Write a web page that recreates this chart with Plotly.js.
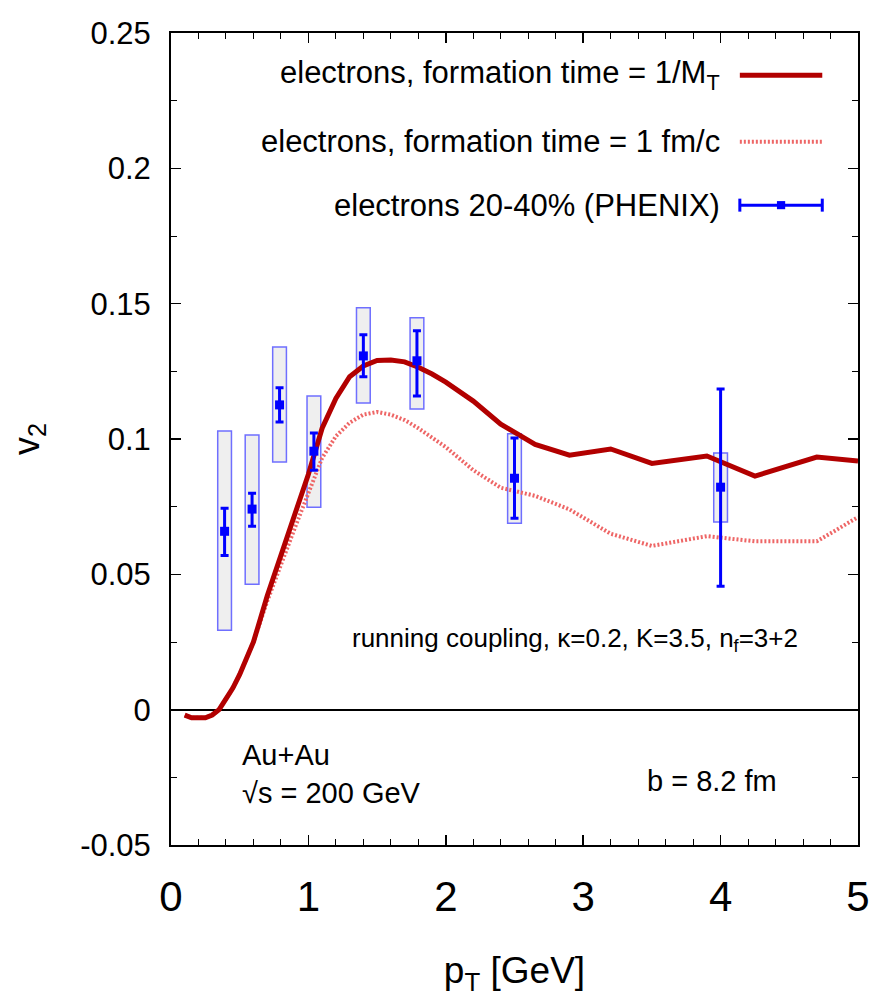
<!DOCTYPE html>
<html>
<head>
<meta charset="utf-8">
<script src="https://cdn.plot.ly/plotly-3.0.1.min.js"></script>
<style>html,body{margin:0;padding:0;background:#fff;}#chart{width:873px;height:1000px;}</style>
</head>
<body>
<div id="chart"></div>
<script>
// ---- Theory curve: formation time = 1/M_T ----
const ptMT = [0.1,0.15,0.2,0.25,0.3,0.35,0.4,0.45,0.5,0.6,0.7,0.8,0.9,1.0,1.1,1.2,1.3,1.4,1.5,1.6,1.7,1.8,1.9,2.0,2.2,2.4,2.65,2.9,3.2,3.5,3.9,4.25,4.7,5.0];
const v2MT = [-0.002,-0.003,-0.003,-0.003,-0.002,0.0,0.004,0.008,0.013,0.025,0.042,0.057,0.072,0.087,0.104,0.115,0.123,0.127,0.129,0.1292,0.1285,0.1265,0.124,0.121,0.114,0.1055,0.098,0.094,0.0963,0.091,0.0937,0.0863,0.0933,0.0919];

// ---- Theory curve: formation time = 1 fm/c ----
const ptFM = [0.1,0.15,0.2,0.25,0.3,0.35,0.4,0.45,0.5,0.6,0.7,0.8,0.9,1.0,1.1,1.2,1.3,1.4,1.5,1.6,1.7,1.8,1.9,2.0,2.2,2.4,2.65,2.9,3.2,3.5,3.9,4.25,4.7,5.0];
const v2FM = [-0.002,-0.003,-0.003,-0.003,-0.002,0.0,0.004,0.008,0.013,0.025,0.040,0.054,0.067,0.080,0.093,0.101,0.106,0.109,0.110,0.109,0.107,0.104,0.1005,0.097,0.0885,0.082,0.079,0.074,0.065,0.0605,0.0641,0.0622,0.0622,0.0711];

// ---- PHENIX electrons 20-40% ----
const ptData = [0.39,0.59,0.79,1.04,1.40,1.79,2.50,4.00];
const v2Data = [0.0659,0.0741,0.1126,0.0955,0.1307,0.1289,0.0855,0.0822];
const statPlus = [0.0085,0.0059,0.0063,0.0067,0.0078,0.0111,0.0149,0.0363];
const statMinus = [0.0089,0.0063,0.0063,0.0070,0.0077,0.0130,0.0148,0.0366];
const sysHigh = [0.1030,0.1015,0.1340,0.1159,0.1485,0.1448,0.1019,0.0948];
const sysLow = [0.0293,0.0463,0.0915,0.0748,0.1133,0.1111,0.0689,0.0693];

// ---- Tick labels ----
const yTickVals = [-0.05,0,0.05,0.1,0.15,0.2,0.25];
const yTickText = ["-0.05","0","0.05","0.1","0.15","0.2","0.25"];
const xTickVals = [0,1,2,3,4,5];
const xTickText = ["0","1","2","3","4","5"];

// ---- Text ----
const legendLabels = ["electrons, formation time = 1/M<sub>T</sub>", "electrons, formation time = 1 fm/c", "electrons 20-40% (PHENIX)"];
const xTitle = "p<sub>T</sub> [GeV]";
const yTitle = "v<sub>2</sub>";
const noteCoupling = "running coupling, κ=0.2, K=3.5, n<sub>f</sub>=3+2";
const noteSystem = "Au+Au<br>√s = 200 GeV";
const noteB = "b = 8.2 fm";

const NARROW = "Liberation Sans Narrow, Arial Narrow, Liberation Sans, Arial, sans-serif";
const NORMAL = "Liberation Sans, Arial, Helvetica, sans-serif";
const darkRed = "#b20000";
const lightRed = "#ee6666";
const blue = "#0000ff";

const traces = [
  {x: ptFM, y: v2FM, mode: "lines", line: {color: lightRed, width: 4, dash: "2px,2px"}, showlegend: false, hoverinfo: "skip"},
  {x: ptMT, y: v2MT, mode: "lines", line: {color: darkRed, width: 5}, showlegend: false},
  {x: ptData, y: v2Data, mode: "markers", marker: {symbol: "square", size: 9, color: blue},
   error_y: {type: "data", symmetric: false, array: statPlus, arrayminus: statMinus, color: blue, thickness: 3, width: 4},
   showlegend: false}
];

const boxHalf = 0.05;
const shapes = ptData.map((p, i) => ({
  type: "rect", xref: "x", yref: "y", layer: "below",
  x0: p - boxHalf, x1: p + boxHalf, y0: sysLow[i], y1: sysHigh[i],
  fillcolor: "#efefef", line: {color: "#6f6fff", width: 1.5}
}));

// manual legend (text on the left, sample on the right)
const legY = [0.948, 0.866, 0.788];
const sx0 = 0.828, sx1 = 0.948;
shapes.push({type: "line", xref: "paper", yref: "paper", x0: sx0, x1: sx1, y0: legY[0], y1: legY[0], line: {color: darkRed, width: 5}});
shapes.push({type: "line", xref: "paper", yref: "paper", x0: sx0, x1: sx1, y0: legY[1], y1: legY[1], line: {color: lightRed, width: 4, dash: "2px,2px"}});
shapes.push({type: "line", xref: "paper", yref: "paper", x0: sx0, x1: sx1, y0: legY[2], y1: legY[2], line: {color: blue, width: 3}});
shapes.push({type: "line", xref: "paper", yref: "paper", x0: sx0, x1: sx0, y0: legY[2] - 0.008, y1: legY[2] + 0.008, line: {color: blue, width: 3}});
shapes.push({type: "line", xref: "paper", yref: "paper", x0: sx1, x1: sx1, y0: legY[2] - 0.008, y1: legY[2] + 0.008, line: {color: blue, width: 3}});
const mid = (sx0 + sx1) / 2;
shapes.push({type: "rect", xref: "paper", yref: "paper", x0: mid - 0.006, x1: mid + 0.006, y0: legY[2] - 0.005, y1: legY[2] + 0.005, fillcolor: blue, line: {width: 0}});

const annotations = legendLabels.map((t, i) => ({
  text: t, xref: "paper", yref: "paper", x: 0.802, y: legY[i], xanchor: "right", yanchor: "middle",
  showarrow: false, font: {family: NARROW, size: 31, color: "#000"}
}));
annotations.push({text: noteCoupling, xref: "paper", yref: "paper", x: 0.26, y: 0.253, xanchor: "left", yanchor: "middle", showarrow: false, font: {family: NARROW, size: 26, color: "#000"}});
annotations.push({text: noteSystem, xref: "paper", yref: "paper", x: 0.1, y: 0.087, xanchor: "left", yanchor: "middle", align: "left", showarrow: false, font: {family: NARROW, size: 29, color: "#000"}});
annotations.push({text: noteB, xref: "paper", yref: "paper", x: 0.69, y: 0.079, xanchor: "left", yanchor: "middle", showarrow: false, font: {family: NARROW, size: 29, color: "#000"}});

const layout = {
  width: 873, height: 1000,
  margin: {l: 171, r: 15, t: 33, b: 155},
  paper_bgcolor: "#fff", plot_bgcolor: "#fff",
  showlegend: false,
  xaxis: {
    range: [0, 5], tickmode: "array", tickvals: xTickVals, ticktext: xTickText, showgrid: false, zeroline: false,
    showline: true, linecolor: "#000", linewidth: 2, mirror: "allticks",
    ticks: "inside", ticklen: 10, tickwidth: 1.5, tickcolor: "#000",
    minor: {dtick: 0.2, tick0: 0, ticks: "inside", ticklen: 6, tickwidth: 1, tickcolor: "#000"},
    tickfont: {family: NARROW, size: 42, color: "#000"}, ticklabelstandoff: 14,
    title: {text: xTitle, font: {family: NARROW, size: 37, color: "#000"}, standoff: 38}
  },
  yaxis: {
    range: [-0.05, 0.25], tickmode: "array", tickvals: yTickVals, ticktext: yTickText, showgrid: false,
    zeroline: true, zerolinecolor: "#000", zerolinewidth: 2,
    showline: true, linecolor: "#000", linewidth: 2, mirror: "allticks",
    ticks: "inside", ticklen: 10, tickwidth: 1.5, tickcolor: "#000",
    minor: {dtick: 0.025, tick0: 0, ticks: "inside", ticklen: 6, tickwidth: 1, tickcolor: "#000"},
    tickfont: {family: NORMAL, size: 31, color: "#000"}, ticklabelstandoff: 12,
    title: {text: yTitle, font: {family: NORMAL, size: 36, color: "#000"}, standoff: 30}
  },
  shapes: shapes,
  annotations: annotations
};

Plotly.newPlot("chart", traces, layout, {displayModeBar: false, staticPlot: true});
</script>
</body>
</html>
